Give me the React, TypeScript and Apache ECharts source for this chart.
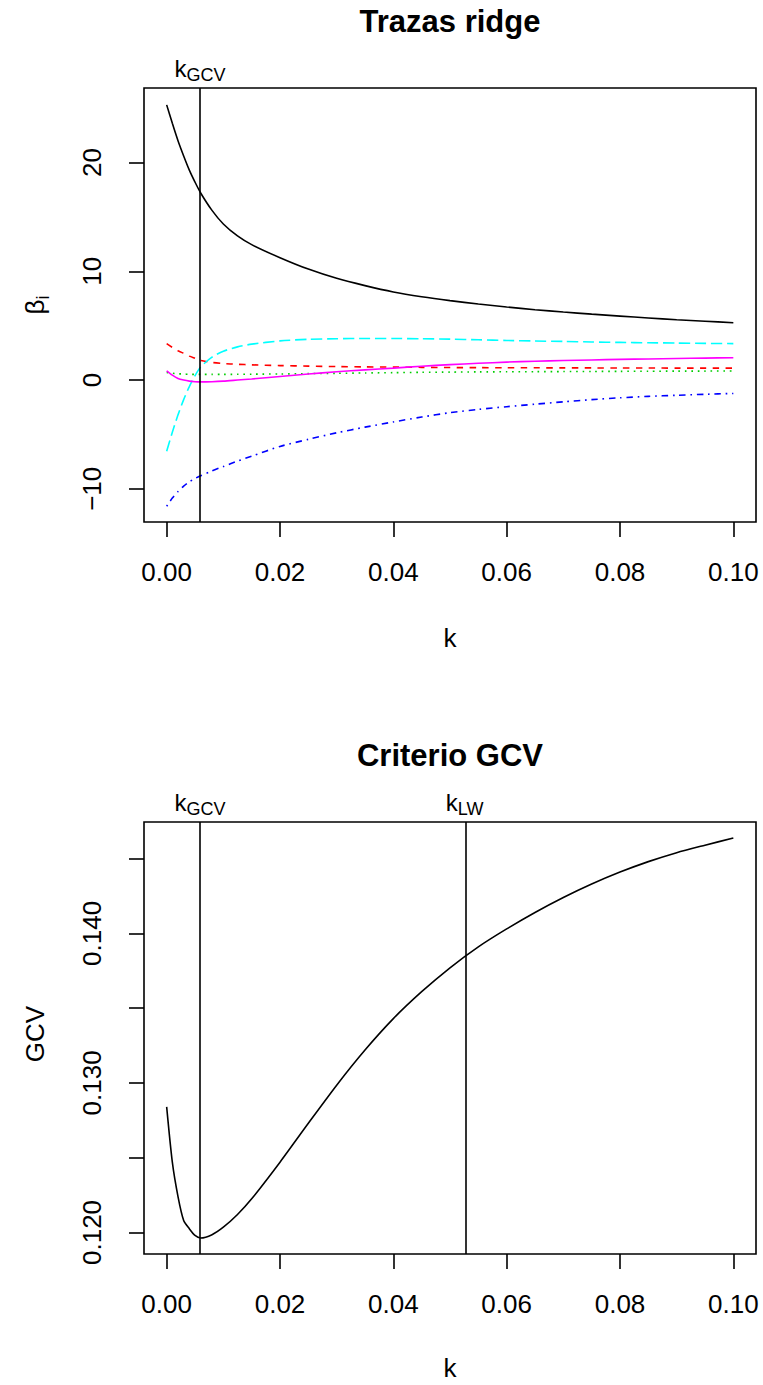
import { useEffect, useRef } from 'react';
import * as echarts from 'echarts';

// ---------- data ----------
const kTrace = [0, 0.001, 0.002, 0.003, 0.004, 0.005, 0.006, 0.008, 0.01, 0.0125, 0.015, 0.02, 0.025, 0.03, 0.035, 0.04, 0.045, 0.05, 0.055, 0.06, 0.065, 0.07, 0.075, 0.08, 0.085, 0.09, 0.095, 0.1];
const beta1 = [25.3, 23.6, 22.0, 20.6, 19.3, 18.2, 17.2, 15.6, 14.35, 13.25, 12.45, 11.25, 10.2, 9.35, 8.68, 8.1, 7.66, 7.3, 6.99, 6.72, 6.47, 6.25, 6.06, 5.88, 5.71, 5.55, 5.41, 5.27];
const beta2 = [3.35, 3.0, 2.7, 2.45, 2.2, 2.0, 1.8, 1.62, 1.52, 1.45, 1.4, 1.33, 1.28, 1.24, 1.21, 1.19, 1.17, 1.15, 1.14, 1.13, 1.125, 1.12, 1.115, 1.11, 1.105, 1.1, 1.1, 1.1];
const beta3 = [0.7, 0.63, 0.58, 0.55, 0.53, 0.52, 0.52, 0.52, 0.52, 0.53, 0.54, 0.56, 0.59, 0.62, 0.65, 0.68, 0.71, 0.73, 0.75, 0.76, 0.77, 0.78, 0.79, 0.8, 0.81, 0.82, 0.825, 0.83];
const beta4 = [-11.6, -10.85, -10.25, -9.75, -9.35, -9.05, -8.8, -8.35, -7.95, -7.45, -7.0, -6.1, -5.45, -4.85, -4.33, -3.85, -3.4, -3.0, -2.7, -2.45, -2.22, -2.0, -1.8, -1.63, -1.5, -1.4, -1.31, -1.23];
const beta5 = [-6.55, -4.8, -3.2, -1.8, -0.6, 0.4, 1.2, 2.1, 2.65, 3.05, 3.3, 3.6, 3.75, 3.8, 3.82, 3.82, 3.8, 3.76, 3.7, 3.64, 3.59, 3.55, 3.5, 3.46, 3.43, 3.4, 3.37, 3.35];
const beta6 = [0.85, 0.45, 0.15, 0.0, -0.1, -0.15, -0.17, -0.15, -0.1, 0.0, 0.1, 0.33, 0.55, 0.76, 0.94, 1.1, 1.27, 1.42, 1.54, 1.65, 1.73, 1.8, 1.85, 1.9, 1.94, 1.98, 2.02, 2.05];

const kGcvGrid = [0, 0.001, 0.002, 0.003, 0.004, 0.005, 0.006, 0.008, 0.01, 0.0125, 0.015, 0.02, 0.025, 0.03, 0.035, 0.04, 0.045, 0.05, 0.055, 0.06, 0.065, 0.07, 0.075, 0.08, 0.085, 0.09, 0.095, 0.1];
const gcvValues = [0.1284, 0.1247, 0.1224, 0.1208, 0.12025, 0.1198, 0.11963, 0.11985, 0.12035, 0.1212, 0.12225, 0.1247, 0.1273, 0.12985, 0.1322, 0.1343, 0.1361, 0.1377, 0.1391, 0.1403, 0.1414, 0.1424, 0.1433, 0.1441, 0.1448, 0.1454, 0.1459, 0.14638];

const kGCV = 0.0059;
const kLW = 0.0527;

const xTicks = [0, 0.02, 0.04, 0.06, 0.08, 0.1];
const betaTicks = [-10, 0, 10, 20];
const gcvTicks = [0.12, 0.125, 0.13, 0.135, 0.14, 0.145];
const gcvLabelTicks = [0.12, 0.13, 0.14];

const FONT = '"Liberation Sans", Arial, Helvetica, sans-serif';
const LW = 1.6;

export default function App() {
  const ref = useRef<HTMLDivElement>(null);

  useEffect(() => {
    const chart = echarts.init(ref.current!, null, { renderer: 'svg' });

    const xAxisBase = (gridIndex: number) => ({
      gridIndex,
      type: 'value',
      min: -0.004,
      max: 0.104,
      axisLine: { show: false, onZero: false },
      splitLine: { show: false },
      axisTick: { show: true, length: 15, lineStyle: { color: '#000', width: LW }, customValues: xTicks },
      axisLabel: {
        customValues: xTicks,
        formatter: (v: number) => v.toFixed(2),
        fontSize: 26,
        fontFamily: FONT,
        color: '#000',
        margin: 37,
      },
    });

    const traceSeries = (name: string, vals: number[], color: string, dash: any) => ({
      type: 'line',
      name,
      xAxisIndex: 0,
      yAxisIndex: 0,
      data: kTrace.map((k, i) => [k, vals[i]]),
      symbol: 'none',
      showSymbol: false,
      smooth: 0.25,
      lineStyle: { color, width: LW, type: dash },
      silent: true,
      z: 3,
    });

    const vline = (ks: number[]) => ({
      silent: true,
      symbol: 'none',
      precision: 6,
      label: { show: false },
      lineStyle: { color: '#000', width: LW, type: 'solid' },
      data: ks.map((k) => ({ xAxis: k })),
    });

    chart.setOption({
      animation: false,
      backgroundColor: '#fff',
      textStyle: { fontFamily: FONT },
      grid: [
        { left: 144, top: 88, width: 612, height: 434, show: true, borderColor: '#000', borderWidth: LW, backgroundColor: 'transparent' },
        { left: 144, top: 822, width: 612, height: 432, show: true, borderColor: '#000', borderWidth: LW, backgroundColor: 'transparent' },
      ],
      xAxis: [xAxisBase(0), xAxisBase(1)],
      yAxis: [
        {
          gridIndex: 0,
          type: 'value',
          min: -13.05,
          max: 26.85,
          axisLine: { show: false, onZero: false },
          splitLine: { show: false },
          axisTick: { show: true, length: 15, lineStyle: { color: '#000', width: LW }, customValues: betaTicks },
          axisLabel: {
            customValues: betaTicks,
            formatter: (v: number) => (v < 0 ? '\u2212' + Math.abs(v) : String(v)),
            rotate: 90,
            fontSize: 26,
            fontFamily: FONT,
            color: '#000',
            margin: 39,
          },
        },
        {
          gridIndex: 1,
          type: 'value',
          min: 0.11856,
          max: 0.14745,
          axisLine: { show: false, onZero: false },
          splitLine: { show: false },
          axisTick: { show: true, length: 15, lineStyle: { color: '#000', width: LW }, customValues: gcvTicks },
          axisLabel: {
            customValues: gcvLabelTicks,
            formatter: (v: number) => v.toFixed(3),
            rotate: 90,
            fontSize: 26,
            fontFamily: FONT,
            color: '#000',
            margin: 39,
          },
        },
      ],
      series: [
        { ...traceSeries('b1', beta1, '#000000', 'solid'), markLine: vline([kGCV]) },
        traceSeries('b2', beta2, '#FF0000', [6.4, 6.4]),
        traceSeries('b3', beta3, '#00CD00', [1.6, 4.8]),
        traceSeries('b4', beta4, '#0000FF', [1.6, 4.8, 6.4, 4.8]),
        traceSeries('b5', beta5, '#00FFFF', [11.2, 4.8]),
        traceSeries('b6', beta6, '#FF00FF', 'solid'),
        {
          type: 'line',
          name: 'GCV',
          xAxisIndex: 1,
          yAxisIndex: 1,
          data: kGcvGrid.map((k, i) => [k, gcvValues[i]]),
          symbol: 'none',
          showSymbol: false,
          smooth: 0.25,
          lineStyle: { color: '#000', width: LW, type: 'solid' },
          silent: true,
          markLine: vline([kGCV, kLW]),
        },
      ],
    });

    // annotation texts positioned through the axes' scales
    const px = (xi: number, v: number) => chart.convertToPixel({ xAxisIndex: xi }, v) as number;
    const topY = (gi: number) => (chart.convertToPixel({ gridIndex: gi }, [0, gi === 0 ? 26.85 : 0.14745]) as number[])[1];
    const botY = (gi: number) => (chart.convertToPixel({ gridIndex: gi }, [0, gi === 0 ? -13.05 : 0.11856]) as number[])[1];
    const midX = px(0, 0.05);

    const txt = (text: string, x: number, y: number, size: number, extra: any = {}) => ({
      type: 'text',
      x,
      y,
      rotation: extra.rotation || 0,
      silent: true,
      style: {
        text,
        fontSize: size,
        fontFamily: FONT,
        fontWeight: extra.bold ? 'bold' : 'normal',
        fill: '#000',
        align: extra.align || 'center',
        verticalAlign: 'middle',
      },
    });

    const kLabel = (xi: number, gi: number, k: number, sub: string, subW: number) => {
      const x = px(xi, k);
      const base = topY(gi) - 11.5;
      const kw = 12;
      const total = kw + subW;
      const left = x - total / 2;
      return [
        txt('k', left, base - 0.3465 * 24, 24, { align: 'left' }),
        txt(sub, left + kw, base + 5 - 0.3465 * 18, 18, { align: 'left' }),
      ];
    };

    const t0 = topY(0);
    const b0 = botY(0);
    const t1 = topY(1);
    const b1 = botY(1);

    chart.setOption({
      graphic: [
        txt('Trazas ridge', midX, t0 - 55 - 0.358 * 31, 31, { bold: true }),
        txt('Criterio GCV', midX, t1 - 55 - 0.358 * 31, 31, { bold: true }),
        txt('k', midX, b0 + 116, 26),
        txt('k', midX, b1 + 114, 26),
        // beta_i (rotated)
        txt('\u03b2', 35, (t0 + b0) / 2 + 2, 26, { rotation: Math.PI / 2 }),
        txt('i', 42.5, (t0 + b0) / 2 - 7.5, 18, { rotation: Math.PI / 2 }),
        txt('GCV', 35, (t1 + b1) / 2 - 4, 26, { rotation: Math.PI / 2 }),
        ...kLabel(0, 0, kGCV, 'GCV', 39),
        ...kLabel(1, 1, kGCV, 'GCV', 39),
        ...kLabel(1, 1, kLW, 'LW', 27),
      ],
    });

    return () => chart.dispose();
  }, []);

  return (
    <div
      ref={ref}
      style={{ position: 'fixed', left: 0, top: 0, width: 763, height: 1385, background: '#fff' }}
    />
  );
}
